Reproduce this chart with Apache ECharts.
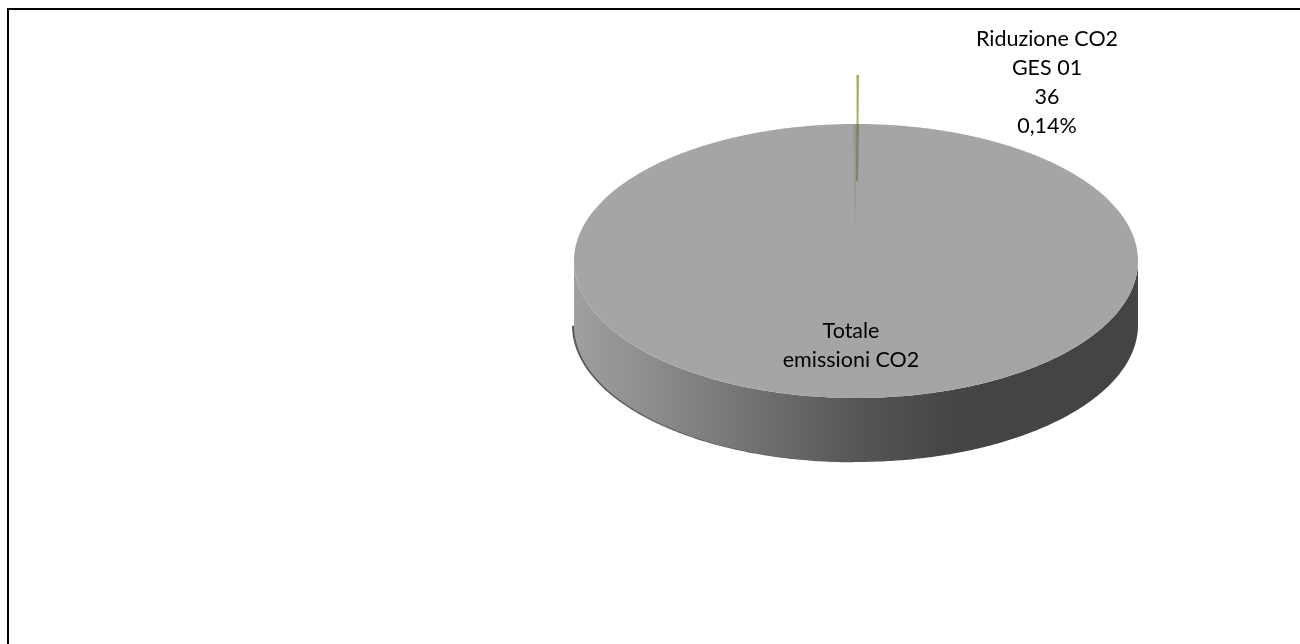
<!DOCTYPE html>
<html>
<head>
<meta charset="utf-8">
<style>html,body{margin:0;padding:0;background:#fff}#c{width:1300px;height:644px}</style>
<script src="https://cdn.jsdelivr.net/npm/echarts@6/dist/echarts.min.js"></script>
</head>
<body>
<div id="c"></div>
<script>
const categories = ['Riduzione CO2\nGES 01', 'Totale\nemissioni CO2'];
const values = [36, 25678];
const percentLabels = ['0,14%', ''];
const showValue = [true, false];
const sliceColors = ['#9bb263', '#a5a5a5'];

const CX = 856, CY = 261, RX = 282, RY = 137, DEPTH = 64, EXPLODE = 49;
const FONT = 'Lato, "Open Sans", sans-serif';
const total = values.reduce((a, b) => a + b, 0);

function rim(a0, a1, cx, cy) {
  const pts = [], n = Math.max(2, Math.ceil((a1 - a0) / 0.01));
  for (let i = 0; i <= n; i++) {
    const a = a0 + (a1 - a0) * i / n;
    pts.push([cx + RX * Math.sin(a), cy - RY * Math.cos(a)]);
  }
  return pts;
}

function renderItem(params, api) {
  const idx = params.dataIndex;
  let before = 0;
  for (let i = 0; i < idx; i++) before += api.value(0, i);
  const a0 = before / total * 2 * Math.PI;
  const a1 = (before + api.value(0)) / total * 2 * Math.PI;
  const children = [];
  if (idx === 1) {
    // thin dark crescent under the wall, lower left only, tapering to the bottom
    children.push({
      type: 'polygon',
      shape: { points: rim(Math.PI, 1.5 * Math.PI, CX - 2, CY + DEPTH + 0.3) },
      style: { fill: '#5a5a5a' }
    });
    // side wall
    const lower = rim(Math.PI / 2, 1.5 * Math.PI, CX, CY + DEPTH);
    const upper = rim(Math.PI / 2, 1.5 * Math.PI, CX, CY).reverse();
    children.push({
      type: 'polygon', shape: { points: lower.concat(upper) },
      style: {
        fill: new echarts.graphic.LinearGradient(0, 0, 1, 0, [
          { offset: 0, color: '#a0a0a0' },
          { offset: 0.25, color: '#7c7c7c' },
          { offset: 0.5, color: '#565656' },
          { offset: 0.68, color: '#444444' },
          { offset: 1, color: '#444444' }
        ])
      }
    });
    // top face, with the wedge left open by the detached slice closed up
    children.push({
      type: 'polygon',
      shape: { points: rim(0, 2 * Math.PI, CX, CY) },
      style: { fill: api.visual('color') }
    });
    // seam left where the detached slice came out
    children.push({
      type: 'polygon',
      shape: { points: [[CX - 1, CY - 27], [CX - 2.5, CY - 137], [CX + 1.5, CY - 137]] },
      style: { fill: '#969696' }
    });
    children.push({
      type: 'text',
      style: {
        text: categories[idx], x: 851, y: 345.5, align: 'center', verticalAlign: 'middle',
        font: '21.5px ' + FONT, lineHeight: 29, fill: '#000'
      }
    });
  } else {
    // detached slice, lifted straight up; wedge width follows its value
    const cy = CY - EXPLODE;
    const tip = rim(a0, a1, CX + 0.5, cy);
    children.push({
      type: 'polygon',
      shape: { points: [[CX + 1, cy + 52]].concat(tip) },
      style: { fill: api.visual('color') }
    });
    const lines = [categories[idx]];
    if (showValue[idx]) lines.push(String(api.value(0)));
    if (percentLabels[idx]) lines.push(percentLabels[idx]);
    children.push({
      type: 'text',
      style: {
        text: lines.join('\n'), x: 1047, y: 82.5, align: 'center', verticalAlign: 'middle',
        font: '21.5px ' + FONT, lineHeight: 29, fill: '#000'
      }
    });
    return { type: 'group', children };
  }
  return { type: 'group', children };
}

// part of the slice that lies over the grey face
function overlay() {
  return {
    type: 'polygon',
    shape: { points: [[CX + 0.5, CY - RY], [CX + 3, CY - RY], [CX + 2, CY - 80], [CX, CY - 80]] },
    style: { fill: '#707f4e', opacity: 0.8 }
  };
}

const chart = echarts.init(document.getElementById('c'), null, { renderer: 'canvas' });
chart.setOption({
  animation: false,
  backgroundColor: '#fff',
  graphic: [
    { type: 'line', shape: { x1: 8, y1: 9, x2: 1300, y2: 9 }, style: { stroke: '#000', lineWidth: 2 }, z: 10 },
    { type: 'line', shape: { x1: 8, y1: 8, x2: 8, y2: 644 }, style: { stroke: '#000', lineWidth: 2 }, z: 10 },
    Object.assign(overlay(), { z: 5 })
  ],
  series: [{
    type: 'custom',
    coordinateSystem: 'none',
    renderItem,
    // the large slice is painted first so the thin slice stays above it
    data: values.map((v, i) => ({ value: [v], name: categories[i], itemStyle: { color: sliceColors[i] } }))
  }]
});
</script>
</body>
</html>
